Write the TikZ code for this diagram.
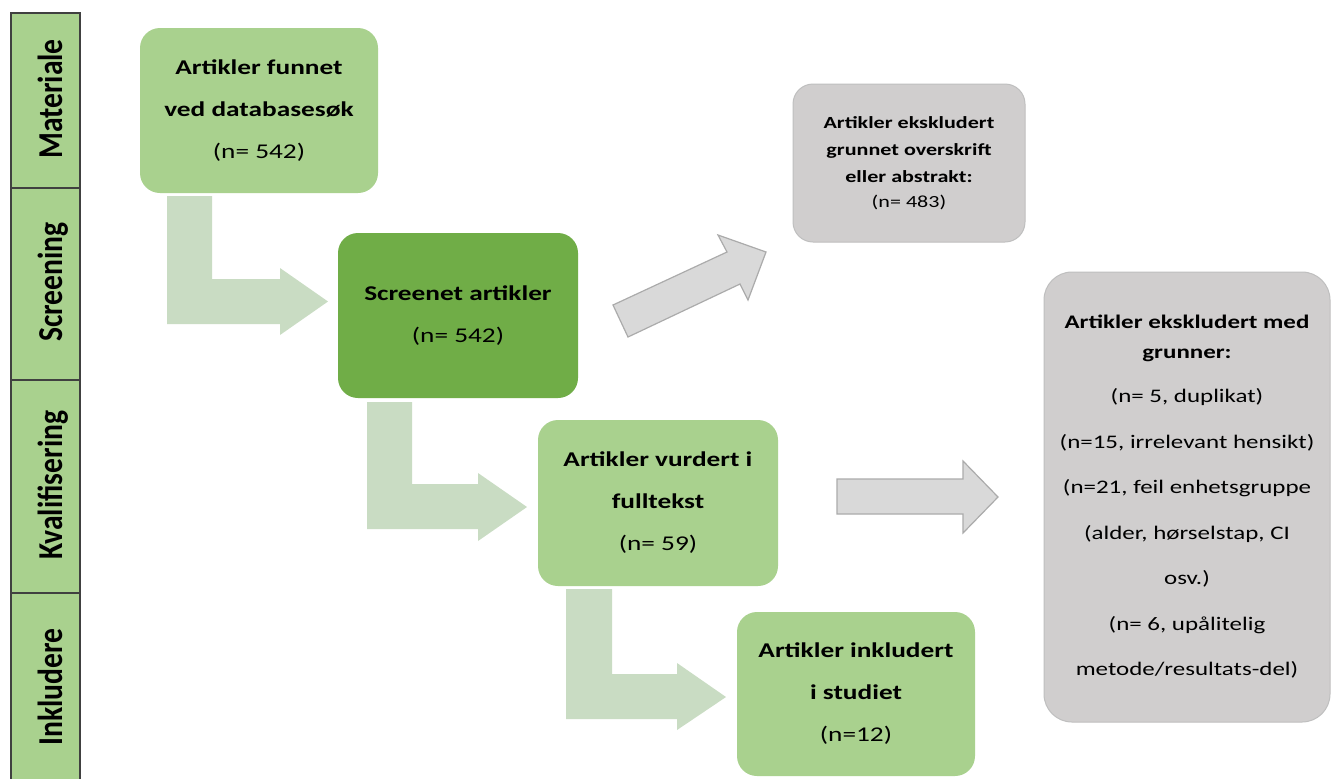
\documentclass[tikz,border=0pt]{standalone}
\usepackage{fontspec}
\setmainfont{Carlito}[FakeStretch=1.3]
\newfontfamily\sidefont{Carlito}
\definecolor{lgreen}{HTML}{A9D18E}
\definecolor{dgreen}{HTML}{70AD47}
\definecolor{agreen}{HTML}{C9DCC3}
\definecolor{gfill}{HTML}{D0CECE}
\definecolor{gline}{HTML}{BFBFBF}
\definecolor{gafill}{HTML}{D9D9D9}
\definecolor{galine}{HTML}{ABABAB}
\definecolor{sideline}{HTML}{404040}
\tikzset{
  box/.style={rectangle, rounded corners=10pt, draw=none, align=center, inner sep=0pt,
    font=\fontsize{10.5}{21}\selectfont},
  lbox/.style={box, fill=lgreen},
  dbox/.style={box, fill=dgreen},
  gbox/.style={rectangle, fill=gfill, draw=gline, line width=0.5pt, align=center, inner sep=0pt},
  flow/.style={fill=agreen, draw=none},
  garrow/.style={fill=gafill, draw=galine, line width=0.6pt, line join=miter},
  sidecell/.style={fill=lgreen, draw=sideline, line width=0.75pt},
  sidetext/.style={rotate=90, anchor=base, inner sep=0pt,
    font=\sidefont\bfseries\fontsize{14.8}{16}\selectfont}
}
\newcommand{\vstretch}[1]{\scalebox{1}[1.18]{#1}}
\begin{document}
\begin{tikzpicture}[x=0.5pt, y={(0pt,-0.5pt)}]
\useasboundingbox (0,0) rectangle (1332,778);
\fill[white] (0,0) rectangle (1332,778);
\begin{scope}
\clip (0,0) rectangle (1332,778);
% sidebar
\draw[sidecell] (11,13) rectangle (80,188);
\draw[sidecell] (11,188) rectangle (80,380);
\draw[sidecell] (11,380) rectangle (80,593);
\draw[sidecell] (11,593) rectangle (80,790);
\node[sidetext] (s1) at (62,99) {\vstretch{Materiale}};
\node[sidetext] (s2) at (62,282) {\vstretch{Screening}};
\node[sidetext] (s3) at (62,485) {\vstretch{Kvalifisering}};
\node[sidetext] (s4) at (62,687) {\vstretch{Inkludere}};

% boxes
\node[lbox, minimum width=119pt, minimum height=82.5pt] (b1) at (259,110.5)
  {\textbf{Artikler funnet}\\ \textbf{ved databasesøk}\\ (n= 542)};
\node[dbox, minimum width=120pt, minimum height=82.5pt] (b2) at (458,315.5)
  {\textbf{Screenet artikler}\\ (n= 542)};
\node[lbox, minimum width=120pt, minimum height=83pt] (b3) at (658,503)
  {\textbf{Artikler vurdert i}\\ \textbf{fulltekst}\\ (n= 59)};
\node[lbox, minimum width=119pt, minimum height=82pt] (b4) at (856,694)
  {\textbf{Artikler inkludert}\\ \textbf{i studiet}\\ (n=12)};

\node[gbox, rounded corners=10pt, minimum width=116pt, minimum height=79pt,
  font=\fontsize{8.5}{13.5}\selectfont] (g1) at (909,163)
  {\textbf{Artikler ekskludert}\\ \textbf{grunnet overskrift}\\ \textbf{eller abstrakt:}\\[-1pt] (n= 483)};
\node[gbox, rounded corners=14pt, minimum width=143pt, minimum height=225pt,
  font=\fontsize{9.6}{15}\selectfont] (g2) at (1187,497)
  {\textbf{Artikler ekskludert med}\\ \textbf{grunner:}\\[7pt]
   (n= 5, duplikat)\\[7.75pt]
   (n=15, irrelevant hensikt)\\[7.75pt]
   (n=21, feil enhetsgruppe\\[7.75pt]
   (alder, hørselstap, CI\\[7.75pt]
   osv.)\\[7.75pt]
   (n= 6, upålitelig\\[7.75pt]
   metode/resultats-del)};

% green bent arrows
\fill[flow] (167,196) -- (212,196) -- (212,279) -- (280,279) -- (280,268) -- (328,301.5)
  -- (280,335) -- (280,324) -- (167,324) -- cycle;
\fill[flow] (367,402) -- (412,402) -- (412,484) -- (478,484) -- (478,473) -- (527,507)
  -- (478,541) -- (478,529) -- (367,529) -- cycle;
\fill[flow] (566,589) -- (612,589) -- (612,674) -- (677,674) -- (677,663) -- (726,697)
  -- (677,730) -- (677,719) -- (566,719) -- cycle;

% gray arrows
\draw[garrow] (613,305) -- (727,252) -- (718,235) -- (766,252) -- (748,300) -- (740,284)
  -- (628,337) -- cycle;
\draw[garrow] (837,479) -- (963,479) -- (963,461) -- (998,497) -- (963,533) -- (963,514)
  -- (837,514) -- cycle;
\end{scope}
\end{tikzpicture}
\end{document}
